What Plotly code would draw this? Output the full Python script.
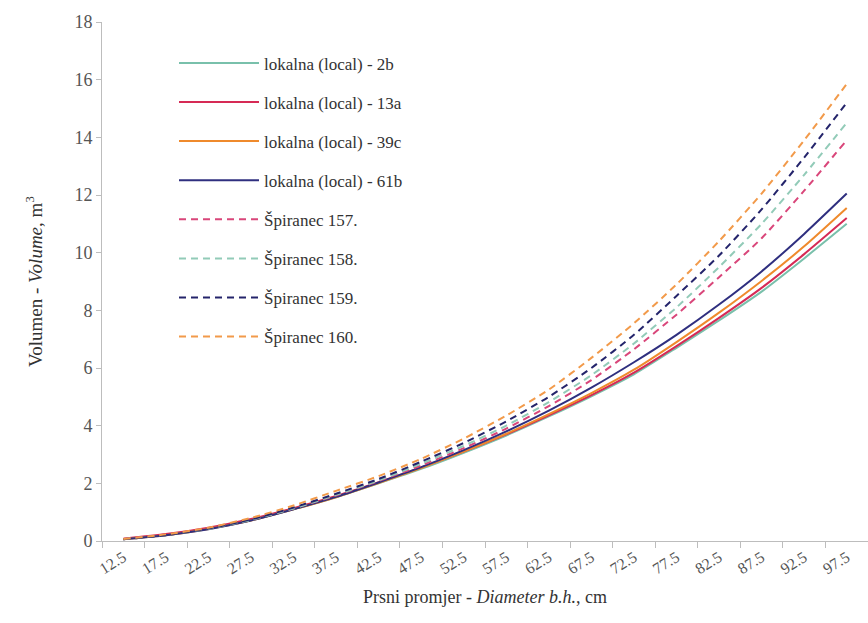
import plotly.graph_objects as go

# Breast-height diameter classes (cm)
diameters = ["12.5", "17.5", "22.5", "27.5", "32.5", "37.5", "42.5", "47.5", "52.5",
             "57.5", "62.5", "67.5", "72.5", "77.5", "82.5", "87.5", "92.5", "97.5"]

# Volume (m3) per diameter class – local tariffs
local_2b = [0.07, 0.22, 0.43, 0.72, 1.10, 1.52, 2.00, 2.50, 3.06,
            3.66, 4.32, 5.02, 5.78, 6.70, 7.65, 8.65, 9.80, 11.00]
local_13a = [0.08, 0.24, 0.46, 0.76, 1.14, 1.56, 2.04, 2.55, 3.10,
             3.70, 4.36, 5.06, 5.84, 6.76, 7.74, 8.78, 9.95, 11.20]
local_39c = [0.06, 0.20, 0.42, 0.71, 1.10, 1.52, 2.01, 2.53, 3.10,
             3.72, 4.40, 5.13, 5.94, 6.90, 7.92, 9.02, 10.22, 11.55]
local_61b = [0.06, 0.20, 0.41, 0.71, 1.10, 1.53, 2.03, 2.56, 3.15,
             3.80, 4.52, 5.32, 6.20, 7.15, 8.20, 9.35, 10.65, 12.05]

# Volume (m3) per diameter class – Špiranec tariffs
spir_157 = [0.07, 0.22, 0.44, 0.74, 1.13, 1.58, 2.08, 2.62, 3.22,
            3.90, 4.68, 5.58, 6.65, 7.85, 9.15, 10.50, 12.15, 13.90]
spir_158 = [0.06, 0.20, 0.42, 0.73, 1.13, 1.60, 2.10, 2.68, 3.30,
            4.00, 4.82, 5.75, 6.85, 8.10, 9.50, 11.00, 12.70, 14.50]
spir_159 = [0.06, 0.20, 0.43, 0.75, 1.16, 1.64, 2.15, 2.75, 3.40,
            4.15, 5.00, 6.00, 7.15, 8.50, 9.90, 11.50, 13.30, 15.20]
spir_160 = [0.07, 0.23, 0.46, 0.80, 1.23, 1.74, 2.25, 2.85, 3.55,
            4.35, 5.25, 6.35, 7.55, 8.90, 10.40, 12.05, 13.90, 15.85]

series = [
    ("lokalna (local) - 2b", local_2b, "#79c0ab", "solid"),
    ("lokalna (local) - 13a", local_13a, "#d62a55", "solid"),
    ("lokalna (local) - 39c", local_39c, "#ef8a2c", "solid"),
    ("lokalna (local) - 61b", local_61b, "#2f2f7f", "solid"),
    ("Špiranec 157.", spir_157, "#d9467a", "7px,5px"),
    ("Špiranec 158.", spir_158, "#92cbb8", "7px,5px"),
    ("Špiranec 159.", spir_159, "#24246b", "7px,5px"),
    ("Špiranec 160.", spir_160, "#f29a4a", "7px,5px"),
]

FONT = "Liberation Serif"

fig = go.Figure()
for i, (name, vals, color, dash) in enumerate(series):
    fig.add_trace(go.Scatter(
        x=diameters, y=vals, name=name, mode="lines",
        line=dict(color=color, width=2, dash=dash, shape="spline", smoothing=0.6),
        legendgroup=f"g{i}",
    ))

fig.update_layout(
    width=868, height=623,
    margin=dict(l=102, r=0, t=22, b=82),
    paper_bgcolor="white", plot_bgcolor="white",
    font=dict(family=FONT, size=16, color="#333333"),
    showlegend=True,
    legend=dict(
        x=0.094, y=0.955, xanchor="left", yanchor="top",
        bgcolor="rgba(255,255,255,0)", borderwidth=0,
        font=dict(family=FONT, size=17, color="#333333"),
        tracegroupgap=14, itemwidth=80,
    ),
    xaxis=dict(
        type="category", range=[-0.5, 17.5],
        tickson="boundaries", ticks="outside", ticklen=6, tickcolor="#bdbdbd",
        showline=True, linecolor="#bdbdbd", linewidth=1,
        showgrid=False, zeroline=False, tickangle=-32,
        tickfont=dict(family=FONT, size=16, color="#555555"),
        title=dict(text="Prsni promjer - <i>Diameter b.h.</i>, cm",
                   font=dict(family=FONT, size=18, color="#333333"), standoff=14),
    ),
    yaxis=dict(
        range=[0, 18], dtick=2, tick0=0,
        ticks="outside", ticklen=5, tickcolor="#bdbdbd",
        showline=True, linecolor="#bdbdbd", linewidth=1,
        showgrid=False, zeroline=False,
        tickfont=dict(family=FONT, size=18, color="#555555"),
        title=dict(text="Volumen - <i>Volume</i>, m<sup>3</sup>",
                   font=dict(family=FONT, size=19, color="#333333"), standoff=26),
    ),
)

fig.write_html("out.html")
